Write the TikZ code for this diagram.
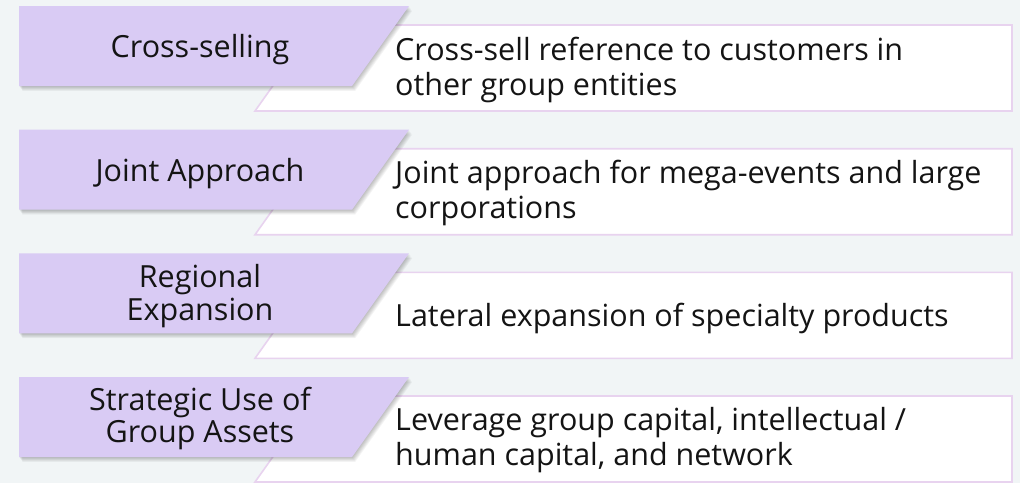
\documentclass[tikz,border=0pt]{standalone}
\usepackage{fontspec}
\setmainfont{Open Sans}
\definecolor{bg}{HTML}{F1F5F6}
\definecolor{lav}{HTML}{D9CBF4}
\definecolor{edgecol}{HTML}{E8D3EF}
% #1 top of row, #2 index, #3 label, #4 description, #5 label y, #6 description y
\newcommand\rowitem[6]{%
  % card (white box)
  \fill[white] (255,#1+105) -- (316,#1+19) -- (1012,#1+19) -- (1012,#1+105) -- cycle;
  \draw[card] (255,#1+105) -- (316,#1+19) -- (1012,#1+19) -- (1012,#1+105) -- cycle;
  % shadow of the tab
  \foreach \i in {1,...,6}{%
    \begin{scope}[shift={(\i*0.55,\i*0.8)}]
      \fill[black, opacity=0.042] (19,#1) -- (409,#1) -- (352,#1+80) -- (19,#1+80) -- cycle;
    \end{scope}}
  % tab
  \fill[tab] (19,#1) -- (409,#1) -- (352,#1+80) -- (19,#1+80) -- cycle;
  \node[lbl] (lbl#2) at (200,#1+#5) {#3};
  \node[desc] (desc#2) at (395,#1+#6) {#4};
}
\begin{document}
\begin{tikzpicture}[x=1pt,y=-1pt,
  lbl/.style={align=center, font=\fontsize{30.5}{32.5}\selectfont, text=black!92, inner sep=0pt},
  desc/.style={align=left, anchor=west, font=\fontsize{30.5}{35}\selectfont, text=black!92, inner sep=0pt},
  tab/.style={fill=lav},
  card/.style={draw=edgecol, line width=1.6pt, line join=miter}]
\fill[bg] (0,0) rectangle (1020,483);
\useasboundingbox (0,0) rectangle (1020,483);
\rowitem{6}{1}{Cross-selling}{Cross-sell reference to customers in\\other group entities}{44}{63.5}
\rowitem{129.7}{2}{Joint Approach}{Joint approach for mega-events and large\\corporations}{44}{63.5}
\rowitem{253.3}{3}{Regional\\Expansion}{Lateral expansion of specialty products}{43}{65.5}
\rowitem{377}{4}{Strategic Use of\\Group Assets}{Leverage group capital, intellectual /\\human capital, and network}{41.5}{63.5}
\end{tikzpicture}
\end{document}
